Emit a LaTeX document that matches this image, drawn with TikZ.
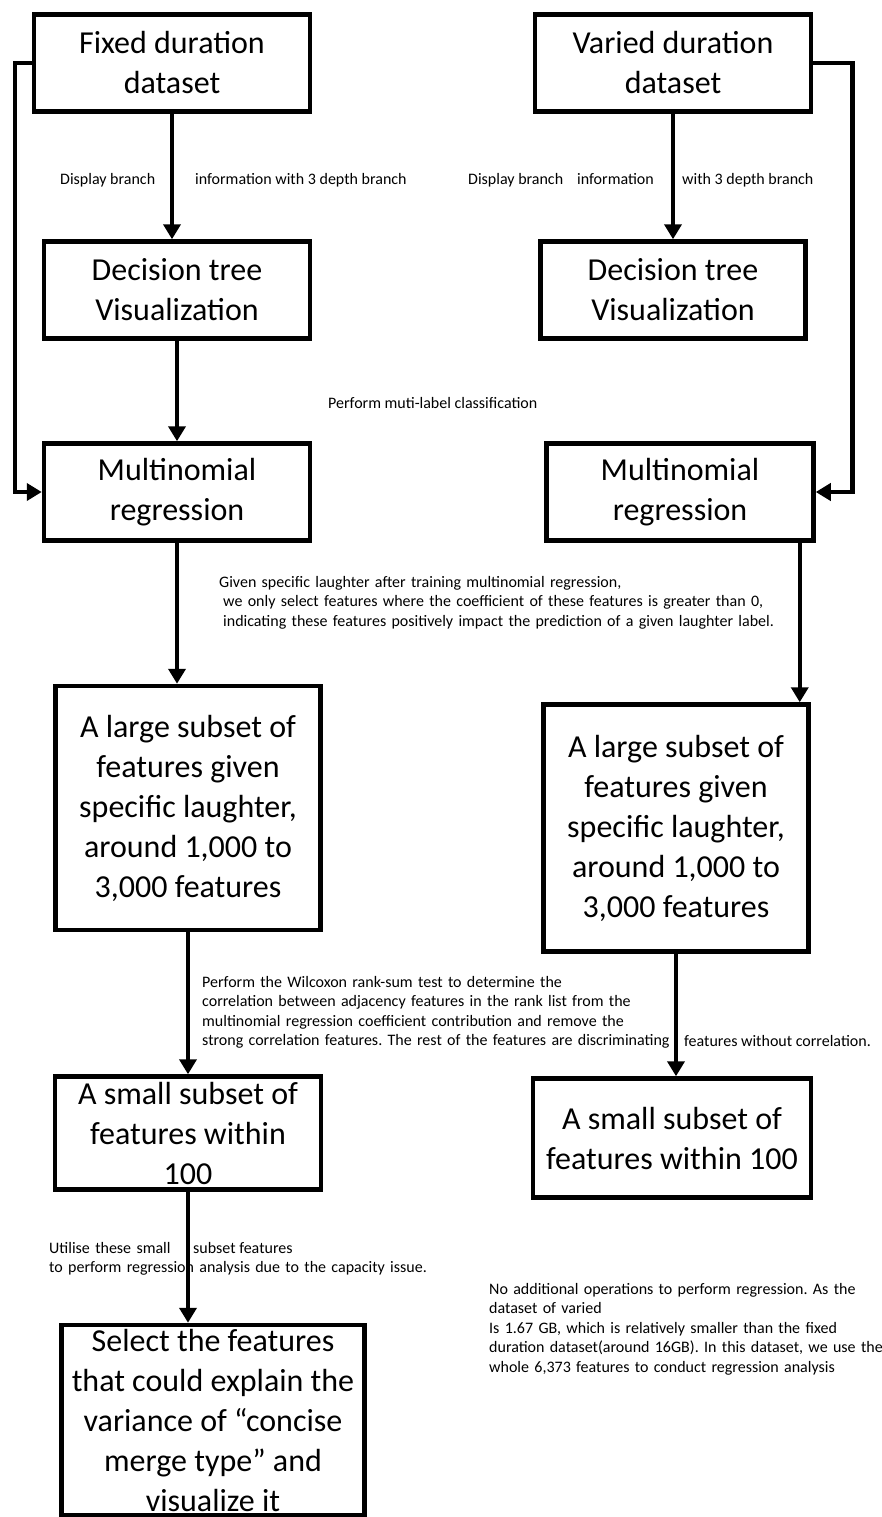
\documentclass[tikz,border=0pt]{standalone}
\usepackage{fontspec}
\setmainfont{Carlito}
\usetikzlibrary{arrows.meta, positioning, calc}
\frenchspacing

\begin{document}
\begin{tikzpicture}[x=1pt, y=-1pt,
    stepbox/.style={draw, line width=4.5pt, align=center, inner sep=0pt,
                    font=\fontsize{32}{40}\selectfont},
    flow/.style={line width=4.5pt, -{Triangle[length=15pt, width=17pt]}},
    note/.style={font=\fontsize{16}{19.5}\selectfont, align=left,
                 inner sep=0pt, anchor=base west}]
  \useasboundingbox (0,0) rectangle (881,1517);

  % fixed duration branch
  \node[stepbox, minimum width=276pt, minimum height=97pt] (fixed) at (172,63)
    {Fixed duration\\dataset};
  \node[stepbox, minimum width=266pt, minimum height=97pt] (dtL) at (177,290)
    {Decision tree\\Visualization};
  \node[stepbox, minimum width=266pt, minimum height=97pt] (mrL) at (177,492)
    {Multinomial\\regression};
  \node[stepbox, minimum width=265pt, minimum height=244pt] (largeL) at (188,808)
    {A large subset of\\features given\\specific laughter,\\around 1,000 to\\3,000 features};
  \node[stepbox, minimum width=266pt, minimum height=113pt] (smallL) at (188,1133)
    {A small subset of\\features within\\100};
  \node[stepbox, minimum width=303pt, minimum height=190pt] (selectL) at (213,1420)
    {Select the features\\that could explain the\\variance of “concise\\merge type” and\\visualize it};

  % varied duration branch
  \node[stepbox, minimum width=276pt, minimum height=97pt] (varied) at (673,63)
    {Varied duration\\dataset};
  \node[stepbox, minimum width=265pt, minimum height=97pt] (dtR) at (673,290)
    {Decision tree\\Visualization};
  \node[stepbox, minimum width=267pt, minimum height=97pt] (mrR) at (680,492)
    {Multinomial\\regression};
  \node[stepbox, minimum width=265pt, minimum height=247pt] (largeR) at (676,828)
    {A large subset of\\features given\\specific laughter,\\around 1,000 to\\3,000 features};
  \node[stepbox, minimum width=278pt, minimum height=119pt] (smallR) at (672,1138)
    {A small subset of\\features within 100};

  % connectors
  \draw[flow] (fixed.south) -- (fixed.south |- dtL.north);
  \draw[flow] (dtL.south) -- (dtL.south |- mrL.north);
  \draw[flow] (mrL.south) -- (mrL.south |- largeL.north);
  \draw[flow] (largeL) -- (smallL);
  \draw[flow] (smallL.south) -- (smallL.south |- selectL.north);
  \draw[flow] (fixed.west) -- ++(-17,0) |- (mrL.west);
  \draw[flow] (varied) -- (dtR);
  \draw[flow] ([xshift=-16pt]mrR.south east) -- ([xshift=-16pt]mrR.south east |- largeR.north);
  \draw[flow] (largeR.south) -- (largeR.south |- smallR.north);
  \draw[flow] (varied.east) -- ++(39,0) |- (mrR.east);

  % notes
  \node[note] (dispL) at (60,185) {Display branch};
  \node[note] (infoL) at (195,185) {information with 3 depth branch};
  \node[note] (dispR) at (468,185) {Display branch};
  \node[note] (infoR) at (577,185) {information};
  \node[note] (depthR) at (682,185) {with 3 depth branch};
  \node[note] (muti) at (328,408) {Perform muti-label classification};
  \node[note, text width=600pt] (coef) at (219,587)
    {Given specific laughter after training multinomial regression,\\
     \hspace*{4pt}we only select features where the coefficient of these features is greater than 0,\\
     \hspace*{4pt}indicating these features positively impact the prediction of a given laughter label.};
  \node[note, text width=520pt] (wilcox) at (202,987)
    {Perform the Wilcoxon rank-sum test to determine the\\
     correlation between adjacency features in the rank list from the\\
     multinomial regression coefficient contribution and remove the\\
     strong correlation features. The rest of the features are discriminating};
  \node[note] (wilcoxEnd) at (684,1046) {features without correlation.};
  \node[note, text width=420pt] (utilise) at (49,1253)
    {Utilise these small\\
     to perform regression analysis due to the capacity issue.};
  \node[note] (utiliseEnd) at (193,1253) {subset features};
  \node[note, text width=440pt] (varnote) at (489,1294)
    {No additional operations to perform regression. As the\\
     dataset of varied\\
     Is 1.67 GB, which is relatively smaller than the fixed\\
     duration dataset(around 16GB). In this dataset, we use the\\
     whole 6,373 features to conduct regression analysis};
\end{tikzpicture}
\end{document}
